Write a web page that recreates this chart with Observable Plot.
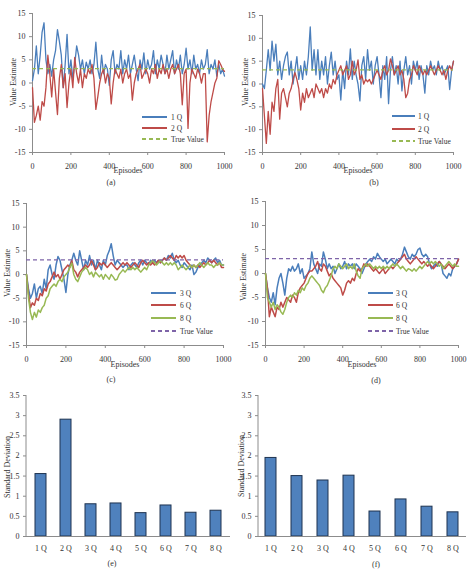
<!DOCTYPE html>
<html>
<head>
<meta charset="utf-8">
<script src="https://cdn.jsdelivr.net/npm/d3@7"></script>
<script src="https://cdn.jsdelivr.net/npm/@observablehq/plot@0.6"></script>
<style>
  body { margin: 0; background: #fff; }
  #fig { position: relative; width: 472px; height: 577px; font-family: "Liberation Serif", "Times New Roman", serif; color: #333; overflow: hidden; }
  .cap { position: absolute; font-size: 8px; line-height: 10px; transform: translate(-50%, -50%); white-space: nowrap; }
</style>
</head>
<body>
<div id="fig"></div>
<script>
// Episode positions of the recorded estimates (every 10 episodes)
const episodes = d3.range(0, 1001, 10);

// (a) single vs double estimator
const aQ1 = [0.5,3,8,2,6,11,13,5,2,4, 1.5,5,7,11.5,9,6,-1,4,10.5,2, 5,1,4,8,6,3,5,2,4.5,3, 5,2,4,8.8,3,1,6,2,4,3, -0.5,5,7,2,4,3,7,2,5,3, 6,2,4,6,3,0.5,5,3,6.5,2, 5,3,4,7,2,5,3,6,4,2, 6,3,5,7,2,5,3,6,2,4, 7.5,3,5,2,6,3,4,2,5,3, 4,7.2,2,4,3,5,1.5,4,2,3, 1.5];
const aQ2 = [-1,-8.5,-7,-5,-8,-4,-5,-1,6,2, -3,3,-2,-6.8,1,4,-1,2,-5.3,0, 3,-1,5.5,2,0,3,-1,2,1,3, 2,4,1,-5.7,-3,0,2,3,0,2, 1,-4.5,0,3,2,1,3,0,2,3, 1,2,-3.7,0,2,3,4,1,2,3, 2,0,3,2,4,1,3,2,4,2, 3,1,3,4,2,3,4,2,-4.7,2, 3,-9.8,0,3,2,1,3,2,0,2, 2,-12.7,-7,-4,-2,0,1,4.8,4,3, 2.5];

// (b)
const bQ1 = [0,-1,3,7.5,3,9.4,5,8.7,2,5, 1,4,6,7,2,5,0,3,6,1, 4,1,5,2,6,12.5,3,7.5,2,7.5, 1,5,2,6,0,4,7,2,5,1, 2,-3.5,3,-1,5,2,7.7,1,5,2, 0,-3.7,4,6,1,7.5,3,5,0,4, 6,2,-3,4,1,6,-4.3,3,6,2, 4,0,5,-1.5,3,6,2,4,0,5, 3,5,1,4,2,-2,4,2,5,3, 4,2,5,3,4,2,3,4,-1.2,3, 5];
const bQ2 = [-1,-7,-13,-6,-11,-4,-6,-1,1,-7.7, -2,-1,-3,-5,-2,-1,1,2.5,1,-1, -5.7,-2,-4,-1,-3,-2,-1,-3,0,-1, -2,-1,-3,-1,-2,0,-1,1,0,2, 3,4,2,3,4,1,2,5,2,3, 5.3,1,2,0,1,0.5,1,0,1,2, 3,2,1,3,4,2,3,5.5,4,2, 3,4,2,3,1,-3,-2,1,2,4, 3,2,4,3,2,3,2,3,4,3, 2,3,4,3,2,3,1,3,4,3, 5];

// (c)
const cQ3 = [0,-3,-5,-4,-2,-5,-3,-2.5,-4,-1, -3,1,2,0,-1,2,3.8,3,1,-1, -3.8,0,2,3,4.5,3,2,5,3,1, 3,2,4,2,3,1,3,2,1,3, 2,4,5,6.5,4,2,3,2.5,2,1.5, 2,2,1,2,2.5,2,1.5,2.5,3,2, 3,2.5,2,3,2.5,3,2.5,3,2.5,3, 3.5,3,4,3.5,4.5,3,2.5,3,2,1.5, 2.5,2,1.5,1,2,0,0.5,1.5,2,2.5, 3,2.5,3.5,3,2.5,3,3.5,2.5,3,2, 2];
const cQ6 = [0,-4,-7,-6,-6.5,-5,-5.5,-4,-4.5,-3, -3.5,-2,-1.5,-0.5,0.5,-0.5,0,-1,0,1, 1.5,2,1.5,3,1,0.5,-0.5,0.5,1,1.5, 2,1.5,2,3,2,1,1.5,2.5,2,2.5, 2,1.5,2,2.5,2,1.5,1,1.5,2,2.5, 2,2.5,2,1.5,2,2.5,2,1.5,2.5,3, 2.5,2,2.5,2,2.5,2,2.5,3,2.5,3, 3.5,3,3.5,4,3.5,3,4,3.5,4,3.5, 4,3,2.5,2,1.5,2,1.5,2,1.5,2, 2.5,2,2.5,3,2.5,3,2.5,2,2.5,1.5, 1.5];
const cQ8 = [0,-5,-8,-9.5,-8,-9,-7.5,-8,-7,-6.5, -5,-4.5,-3,-2.5,-2,-2.5,-1.5,-1,-1.5,-0.5, 0,0.5,1.5,2.4,0,-1,-1.5,-0.5,0.5,1, 1.5,1,0,0.5,-0.5,0.5,0,-0.5,0,-1, 0,-0.5,-1,0,-0.5,-1.2,-1,0,0.5,1, 0.5,1,1.5,1,1.5,1,1.5,1,0.5,1, 1.5,1,2,2.5,3,2.5,2,2.5,3,2.5, 2,2.5,2,2.5,2,2.5,2,1,1.5,2, 1.5,1,1.5,2,1.5,2,1.5,2,2.5,2, 1.5,2,2.5,2,2,1.5,2,2,2.5,2, 2];

// (d)
const dQ3 = [0,-3,-5,-6,-4,-6.5,-3,-1,0,-2, -4.5,-1,1,0.5,1.5,0.5,1,2,0,1, -1,-0.5,0,1,4.5,2,1,0,2,1.5, 4.5,3,1,2,1,1.5,0,1,2,1, 1.5,2.5,1,2,1.5,2,1,2,1.5,1, 0,1,2,2.5,3,2.5,3.5,3,4.2,3.5, 3,2.5,3,2,2.5,3,2.5,2,3,2.5, 3,4,5.5,4.5,3.5,3,4,3.5,4,5, 5.3,4,3.5,4,3.5,2,1,1.5,2,1.5, 2.5,2,0,-0.5,-1,0,-0.5,1,1.5,2, 3];
const dQ6 = [0,-3,-9,-7,-8,-9,-7,-7.5,-6,-7, -6,-5,-5.5,-6,-4.5,-5,-6,-4,-3,-2.5, -2,-1,0,0.5,0.5,1,1.5,2.5,1,0.5, 2,1.5,0.5,-0.5,0,-1,-1.5,-2,-2.5,-3, -4.5,-3.5,-2,-1.5,-2,-1,-1.5,0,1,0.5, 1,2,1.5,2,1.5,1,0.5,1,0.5,0, 0.5,1,0,0.5,1,1.5,1,1.5,2,2.5, 3,3.5,4,3,2.5,2,2.5,3,3.5,3, 2.5,2,2.5,2,1.5,2,1.5,1,1.5,2, 2.5,2,1.5,1,1.5,2,1.5,1,1.5,2, 3];
const dQ8 = [0,-5,-6,-7,-6,-7.5,-6.5,-7,-8,-8.5, -7.5,-6,-5,-4.5,-5,-4,-4.5,-3.5,-4,-3, -3.5,-2.5,-2,-1,-0.5,-1,-1.5,-2,-2.5,-3.5, -4,-3,-2.5,-1.5,-0.5,1,1.5,1,2,1.5, 1,1.5,2,1,1.5,1,2,0.5,-0.5,-1, 1,1.5,2,1.5,2,1.5,1,1.5,1,1.5, 1,1.5,1,1.5,1,1.5,2,1.5,2,1.5, 1,1.5,1,0.5,1,0.8,0.5,1,0.5,1, 1.5,1,1.5,2,2.5,2,2.5,2,2.5,2, 1.5,2,1,1.5,2,2.5,2,1.5,2,1.5, 1.5];

const trueValue = 3.1;
const valueTicks = [-15, -10, -5, 0, 5, 10, 15];
const episodeTicks = [0, 200, 400, 600, 800, 1000];

// (e), (f) standard deviation of the estimates
const barCats = ["1 Q", "2 Q", "3 Q", "4 Q", "5 Q", "6 Q", "7 Q", "8 Q"];
const eStd = [1.55, 2.9, 0.8, 0.82, 0.58, 0.77, 0.59, 0.64];
const fStd = [1.95, 1.5, 1.39, 1.51, 0.62, 0.92, 0.74, 0.6];
const stdTicks = [0, 0.5, 1, 1.5, 2, 2.5, 3, 3.5];

const BLUE = "#4A7EBB", RED = "#BE4B48", GREEN = "#98B954", PURPLE = "#7E64A8", AXIS = "#8C8C8C";
const FONT = '"Liberation Serif", "Times New Roman", serif';

const fig = document.getElementById("fig");

function place(node, left, top) {
  node.style.position = "absolute";
  node.style.left = left + "px";
  node.style.top = top + "px";
  fig.appendChild(node);
}

function caption(text, x, y) {
  const d = document.createElement("div");
  d.className = "cap";
  d.textContent = text;
  d.style.left = x + "px";
  d.style.top = y + "px";
  fig.appendChild(d);
}

function axisTitles(svg, yLab, xLab) {
  const s = d3.select(svg);
  s.append("text").attr("transform", `translate(${yLab.x},${yLab.y}) rotate(-90)`)
    .attr("text-anchor", "middle").attr("dy", "0.35em")
    .attr("font-size", 8).attr("font-family", FONT).attr("fill", "#333").text(yLab.text);
  if (xLab) {
    s.append("text").attr("x", xLab.x).attr("y", xLab.y)
      .attr("text-anchor", "middle").attr("dy", "0.35em")
      .attr("font-size", 8).attr("font-family", FONT).attr("fill", "#333").text(xLab.text);
  }
}

function legend(svg, items, lg) {
  const g = d3.select(svg).append("g").attr("text-anchor", "start");
  items.forEach((it, i) => {
    const y = lg.ys[i];
    g.append("line").attr("x1", lg.x1).attr("x2", lg.x2).attr("y1", y).attr("y2", y)
      .attr("stroke", it.color).attr("stroke-width", 2)
      .attr("stroke-dasharray", it.dash ? "4,3" : null);
    g.append("text").attr("x", lg.tx).attr("y", y).attr("dy", "0.35em")
      .attr("text-anchor", "start")
      .attr("font-size", 7.5).attr("font-family", FONT).attr("fill", "#333").text(it.name);
  });
}

function linePanel(cfg) {
  const m = cfg.margin;
  const svg = Plot.plot({
    width: cfg.width, height: cfg.height,
    marginTop: m[0], marginRight: m[1], marginBottom: m[2], marginLeft: m[3],
    style: { background: "transparent", fontFamily: FONT, fontSize: "8px", color: "#333", overflow: "visible" },
    x: { domain: [0, 1000] },
    y: { domain: [-15, 15] },
    marks: [
      Plot.axisY({ ticks: valueTicks, tickFormat: d => String(d), tickSize: 3, tickPadding: 4, stroke: AXIS, label: null }),
      Plot.axisX({ ticks: episodeTicks, tickFormat: d => String(d), tickSize: 3, tickPadding: 8, stroke: AXIS, label: null }),
      Plot.ruleX([0], { stroke: AXIS }),
      Plot.ruleY([-15], { stroke: AXIS }),
      ...cfg.series.map(s => Plot.lineY(s.values, { x: (d, i) => episodes[i], y: d => d, stroke: s.color, strokeWidth: cfg.lineWidth })),
      Plot.ruleY([trueValue], { stroke: cfg.truthColor, strokeDasharray: "4,3", strokeWidth: 1.3 })
    ]
  });
  axisTitles(svg, { text: "Value Estimate", ...cfg.yLab }, { text: "Episodes", ...cfg.xLab });
  legend(svg, [...cfg.series, { name: "True Value", color: cfg.truthColor, dash: true }], cfg.legend);
  place(svg, cfg.left, cfg.top);
}

function barPanel(cfg) {
  const m = cfg.margin;
  const rows = barCats.map((c, i) => ({ cat: c, sd: cfg.values[i] }));
  const svg = Plot.plot({
    width: cfg.width, height: cfg.height,
    marginTop: m[0], marginRight: m[1], marginBottom: m[2], marginLeft: m[3],
    style: { background: "transparent", fontFamily: FONT, fontSize: "8px", color: "#333", overflow: "visible" },
    x: { domain: barCats, paddingInner: 0.57, paddingOuter: 0.285 },
    y: { domain: [0, 3.5] },
    marks: [
      Plot.axisY({ ticks: stdTicks, tickFormat: d => String(d), tickSize: 3, tickPadding: 4, stroke: AXIS, label: null }),
      Plot.axisX({ tickSize: 0, tickPadding: 9, label: null }),
      Plot.barY(rows, { x: "cat", y: "sd", fill: "#4F81BD", stroke: "#1E3350", strokeWidth: 1 }),
      Plot.ruleY([0], { stroke: AXIS })
    ]
  });
  d3.select(svg).append("line")
    .attr("x1", m[3]).attr("x2", m[3]).attr("y1", m[0]).attr("y2", cfg.height - m[2])
    .attr("stroke", AXIS);
  axisTitles(svg, { text: "Standard Deviation", ...cfg.yLab }, null);
  place(svg, cfg.left, cfg.top);
}

linePanel({
  left: 0, top: 0, width: 236, height: 178, margin: [13, 12, 26, 32], lineWidth: 1.3,
  series: [{ name: "1 Q", values: aQ1, color: BLUE }, { name: "2 Q", values: aQ2, color: RED }],
  truthColor: GREEN,
  legend: { x1: 142, x2: 167, tx: 171, ys: [117, 128, 139] },
  yLab: { x: 13, y: 82 }, xLab: { x: 128, y: 170 }
});
linePanel({
  left: 236, top: 0, width: 236, height: 178, margin: [15, 19, 26, 26], lineWidth: 1.3,
  series: [{ name: "1 Q", values: bQ1, color: BLUE }, { name: "2 Q", values: bQ2, color: RED }],
  truthColor: GREEN,
  legend: { x1: 156, x2: 179, tx: 182, ys: [116, 129, 141] },
  yLab: { x: 9, y: 82 }, xLab: { x: 122, y: 170 }
});
linePanel({
  left: 0, top: 190, width: 236, height: 178, margin: [13, 13, 23, 26], lineWidth: 1.5,
  series: [{ name: "3 Q", values: cQ3, color: BLUE }, { name: "6 Q", values: cQ6, color: RED }, { name: "8 Q", values: cQ8, color: GREEN }],
  truthColor: PURPLE,
  legend: { x1: 151, x2: 176, tx: 180, ys: [103, 115, 128, 141] },
  yLab: { x: 7, y: 83 }, xLab: { x: 125, y: 174 }
});
linePanel({
  left: 236, top: 190, width: 236, height: 178, margin: [11, 14, 23, 29], lineWidth: 1.5,
  series: [{ name: "3 Q", values: dQ3, color: BLUE }, { name: "6 Q", values: dQ6, color: RED }, { name: "8 Q", values: dQ8, color: GREEN }],
  truthColor: PURPLE,
  legend: { x1: 132, x2: 157, tx: 160, ys: [103, 115, 128, 141] },
  yLab: { x: 7, y: 87 }, xLab: { x: 126, y: 174 }
});
barPanel({
  left: 0, top: 380, width: 236, height: 180, margin: [15, 6, 24, 26],
  values: eStd, yLab: { x: 7.5, y: 87 }
});
barPanel({
  left: 236, top: 380, width: 236, height: 180, margin: [15, 6, 24, 22],
  values: fStd, yLab: { x: 5, y: 86 }
});

caption("(a)", 111, 183);
caption("(b)", 374, 183);
caption("(c)", 111, 380);
caption("(d)", 376, 381);
caption("(e)", 112, 564);
caption("(f)", 376, 565);
</script>
</body>
</html>
